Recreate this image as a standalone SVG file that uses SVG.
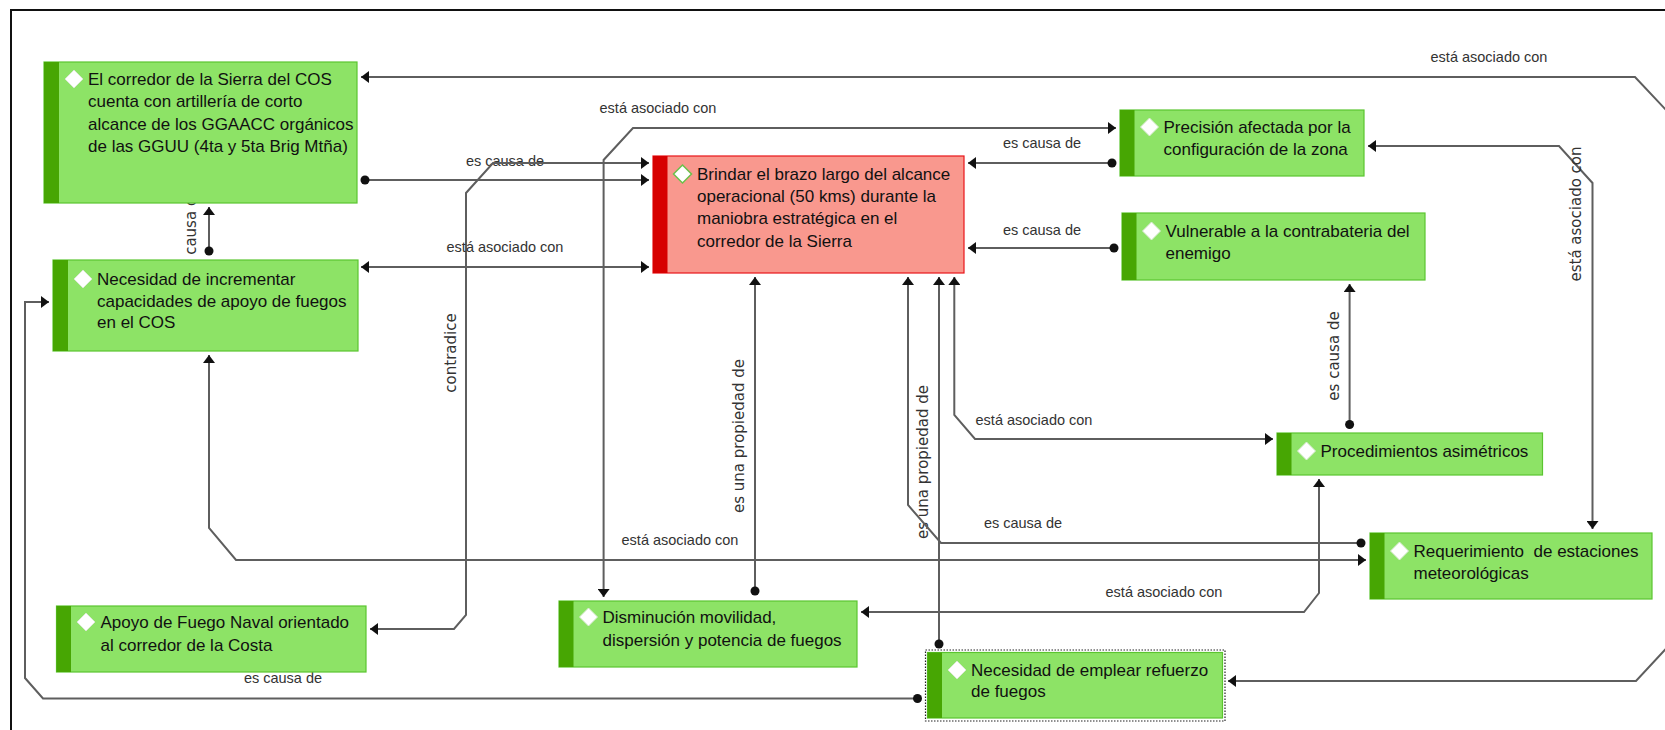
<svg xmlns="http://www.w3.org/2000/svg" width="1665" height="730" viewBox="0 0 1665 730">
<style>
.bg{fill:#ffffff}
.frame{fill:none;stroke:#111;stroke-width:2}
.ln{fill:none;stroke:#5e5e5e;stroke-width:2}
.lbl{font-family:"Liberation Sans",Arial,sans-serif;font-size:14.5px;fill:#333;text-anchor:middle}
.rl{font-family:"DejaVu Sans",Verdana,sans-serif;font-size:15px;fill:#333;text-anchor:middle}
.box{fill:#8de366;stroke:#5bc530;stroke-width:1.2}
.bar{fill:#47a603}
.rbox{fill:#f9988e;stroke:#e8141a;stroke-width:1.2}
.rbar{fill:#d70000}
.dia{fill:#ffffff;stroke:#d8e8d0;stroke-width:1}
.rdia{fill:#ffffff;stroke:#6cc04a;stroke-width:1.5}
.nt{font-family:"Liberation Sans",Arial,sans-serif;font-size:17px;fill:#111}
.sel{fill:none;stroke:#222;stroke-width:1.2;stroke-dasharray:1.5 1.5}
</style>
<defs>
<marker id="arr" viewBox="0 0 8 12" refX="8" refY="6" markerWidth="8" markerHeight="12" markerUnits="userSpaceOnUse" orient="auto-start-reverse">
<path d="M0,0 L8,6 L0,12 z" fill="#111"/>
</marker>
<marker id="dot" viewBox="0 0 10 10" refX="5" refY="5" markerWidth="10" markerHeight="10" markerUnits="userSpaceOnUse" orient="auto">
<circle cx="5" cy="5" r="4.5" fill="#111"/>
</marker>
</defs>
<rect class="bg" x="0" y="0" width="1665" height="730"/>
<path class="frame" d="M11,731 L11,10 L1666,10"/>

<g id="connectors">
<path id="c1" class="ln" d="M361,77 L1635,77 L1700,146 L1700,612 L1636,681 L1228,681" marker-start="url(#arr)" marker-end="url(#arr)"/>
<text class="lbl" x="1489" y="62">está asociado con</text>

<path id="c2" class="ln" d="M209,251 L209,207" marker-start="url(#dot)" marker-end="url(#arr)"/>
<text class="rl" transform="translate(196,232) rotate(-90)">es causa de</text>

<path id="c3" class="ln" d="M365,180 L649,180" marker-start="url(#dot)" marker-end="url(#arr)"/>
<text class="lbl" x="505" y="166">es causa de</text>

<path id="c4" class="ln" d="M649,163 L493,163 L466,193 L466,615 L454,629 L370,629" marker-start="url(#arr)" marker-end="url(#arr)"/>
<text class="rl" transform="translate(455.5,353) rotate(-90)">contradice</text>

<path id="c5" class="ln" d="M361,267 L649,267" marker-start="url(#arr)" marker-end="url(#arr)"/>
<text class="lbl" x="505" y="252">está asociado con</text>

<path id="c6" class="ln" d="M1116,128 L633,128 L603.6,160 L603.6,597" marker-start="url(#arr)" marker-end="url(#arr)"/>
<text class="lbl" x="658" y="113">está asociado con</text>

<path id="c7" class="ln" d="M1112,163 L968,163" marker-start="url(#dot)" marker-end="url(#arr)"/>
<text class="lbl" x="1042" y="148">es causa de</text>

<path id="c8" class="ln" d="M1114,248 L968,248" marker-start="url(#dot)" marker-end="url(#arr)"/>
<text class="lbl" x="1042" y="235">es causa de</text>

<path id="c9" class="ln" d="M1349.6,424.5 L1349.6,284" marker-start="url(#dot)" marker-end="url(#arr)"/>
<text class="rl" transform="translate(1339,356) rotate(-90)">es causa de</text>

<path id="c10" class="ln" d="M755,591 L755,277" marker-start="url(#dot)" marker-end="url(#arr)"/>
<text class="rl" transform="translate(744,436) rotate(-90)">es una propiedad de</text>

<path id="c11" class="ln" d="M939,644 L939,277" marker-start="url(#dot)" marker-end="url(#arr)"/>
<text class="rl" transform="translate(928,462) rotate(-90)">es una propiedad de</text>

<path id="c12" class="ln" d="M1361,543 L941,543 L908,505 L908,277" marker-start="url(#dot)" marker-end="url(#arr)"/>
<text class="lbl" x="1023" y="528">es causa de</text>

<path id="c13" class="ln" d="M954.3,277 L954.3,415 L975,439 L1273,439" marker-start="url(#arr)" marker-end="url(#arr)"/>
<text class="lbl" x="1034" y="425">está asociado con</text>

<path id="c14" class="ln" d="M209,355 L209,528 L236,560 L1366,560" marker-start="url(#arr)" marker-end="url(#arr)"/>
<text class="lbl" x="680" y="545">está asociado con</text>

<path id="c15" class="ln" d="M1319,479 L1319,593 L1304,612 L861,612" marker-start="url(#arr)" marker-end="url(#arr)"/>
<text class="lbl" x="1164" y="597">está asociado con</text>

<path id="c16" class="ln" d="M917.5,698.5 L43,698.5 L25,678 L25,302 L49,302" marker-start="url(#dot)" marker-end="url(#arr)"/>
<text class="lbl" x="283" y="683">es causa de</text>

<path id="c17" class="ln" d="M1368,146 L1559,146 L1592.5,183 L1592.5,529" marker-start="url(#arr)" marker-end="url(#arr)"/>
<text class="rl" transform="translate(1581,214) rotate(-90)">está asociado con</text>
</g>

<g id="nA">
<rect class="box" x="44" y="62" width="313" height="141"/>
<rect class="bar" x="44" y="62" width="15" height="141"/>
<polygon class="dia" points="74,70 83,79 74,88 65,79"/>
<text class="nt" x="88" y="85">El corredor de la Sierra del COS</text>
<text class="nt" x="88" y="107.3">cuenta con artillería de corto</text>
<text class="nt" x="88" y="129.5">alcance de los GGAACC orgánicos</text>
<text class="nt" x="88" y="151.7">de las GGUU (4ta y 5ta Brig Mtña)</text>
</g>

<g id="nB">
<rect class="box" x="53" y="260" width="305" height="91"/>
<rect class="bar" x="53" y="260" width="15" height="91"/>
<polygon class="dia" points="83,270 92,279 83,288 74,279"/>
<text class="nt" x="97" y="285">Necesidad de incrementar</text>
<text class="nt" x="97" y="306.7">capacidades de apoyo de fuegos</text>
<text class="nt" x="97" y="328.3">en el COS</text>
</g>

<g id="nC">
<rect class="rbox" x="653" y="156" width="311" height="117"/>
<rect class="rbar" x="653" y="156" width="14.5" height="117"/>
<polygon class="rdia" points="682.5,165 691.5,174 682.5,183 673.5,174"/>
<text class="nt" x="697" y="180">Brindar el brazo largo del alcance</text>
<text class="nt" x="697" y="202">operacional (50 kms) durante la</text>
<text class="nt" x="697" y="224.3">maniobra estratégica en el</text>
<text class="nt" x="697" y="246.7">corredor de la Sierra</text>
</g>

<g id="nD">
<rect class="box" x="1120" y="110" width="244" height="66"/>
<rect class="bar" x="1120" y="110" width="14.5" height="66"/>
<polygon class="dia" points="1149.5,118 1158.5,127 1149.5,136 1140.5,127"/>
<text class="nt" x="1163.5" y="133">Precisión afectada por la</text>
<text class="nt" x="1163.5" y="155">configuración de la zona</text>
</g>

<g id="nE">
<rect class="box" x="1122" y="213" width="303" height="67"/>
<rect class="bar" x="1122" y="213" width="14.5" height="67"/>
<polygon class="dia" points="1151.5,222 1160.5,231 1151.5,240 1142.5,231"/>
<text class="nt" x="1165.5" y="237.3">Vulnerable a la contrabateria del</text>
<text class="nt" x="1165.5" y="259.3">enemigo</text>
</g>

<g id="nF">
<rect class="box" x="1277" y="433" width="265.5" height="42"/>
<rect class="bar" x="1277" y="433" width="14.5" height="42"/>
<polygon class="dia" points="1306.5,442 1315.5,451 1306.5,460 1297.5,451"/>
<text class="nt" x="1320.5" y="456.7">Procedimientos asimétricos</text>
</g>

<g id="nG">
<rect class="box" x="1370" y="533" width="282" height="66"/>
<rect class="bar" x="1370" y="533" width="14.5" height="66"/>
<polygon class="dia" points="1399.5,542 1408.5,551 1399.5,560 1390.5,551"/>
<text class="nt" x="1413.5" y="556.7" xml:space="preserve">Requerimiento  de estaciones</text>
<text class="nt" x="1413.5" y="579">meteorológicas</text>
</g>

<g id="nH">
<rect class="sel" x="925.5" y="650" width="299.5" height="71"/>
<rect class="box" x="927.5" y="652.5" width="295" height="65.5"/>
<rect class="bar" x="927.5" y="652.5" width="14.5" height="65.5"/>
<polygon class="dia" points="957,661 966,670 957,679 948,670"/>
<text class="nt" x="971" y="676">Necesidad de emplear refuerzo</text>
<text class="nt" x="971" y="697.3">de fuegos</text>
</g>

<g id="nI">
<rect class="box" x="559" y="601" width="298" height="66"/>
<rect class="bar" x="559" y="601" width="14.5" height="66"/>
<polygon class="dia" points="588.5,608 597.5,617 588.5,626 579.5,617"/>
<text class="nt" x="602.5" y="623">Disminución movilidad,</text>
<text class="nt" x="602.5" y="645.7">dispersión y potencia de fuegos</text>
</g>

<g id="nJ">
<rect class="box" x="56.5" y="606" width="309.5" height="66"/>
<rect class="bar" x="56.5" y="606" width="14.5" height="66"/>
<polygon class="dia" points="86,613 95,622 86,631 77,622"/>
<text class="nt" x="100.5" y="628">Apoyo de Fuego Naval orientado</text>
<text class="nt" x="100.5" y="651">al corredor de la Costa</text>
</g>
</svg>
